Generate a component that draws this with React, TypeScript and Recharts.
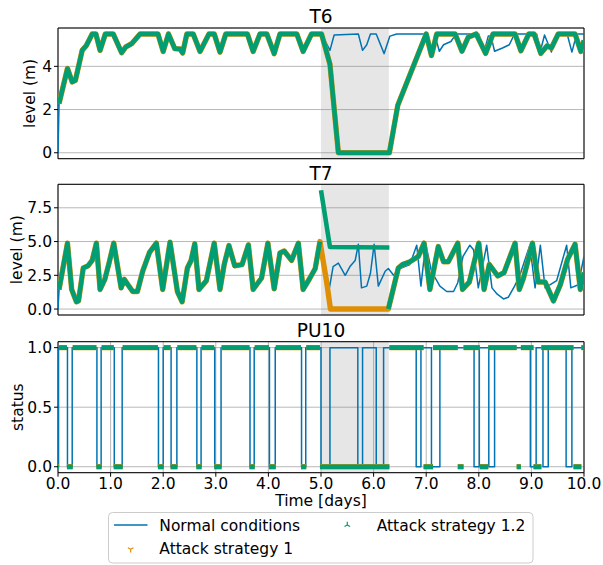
import React from 'react';
import { LineChart, Line, XAxis, YAxis, CartesianGrid, ReferenceArea } from 'recharts';

const BLUE = '#0173B2';
const ORANGE = '#DE8F05';
const GREEN = '#029E73';
const FONT = '"DejaVu Sans", sans-serif';

const xTicks = [0, 1, 2, 3, 4, 5, 6, 7, 8, 9, 10];
const attackWindow = [5.0, 6.29];

// T6 tank level [day, m]
const t6Common = [
  [0.02, 2.28], [0.18, 3.9], [0.27, 3.28], [0.33, 3.35], [0.46, 4.74], [0.54, 4.97], [0.65, 5.5],
  [0.72, 5.5], [0.8, 4.74], [0.9, 5.5], [1.05, 5.5], [1.21, 4.63], [1.29, 4.9], [1.4, 5.05],
  [1.56, 5.5], [1.9, 5.5], [2.0, 4.69], [2.1, 5.5], [2.22, 4.82], [2.32, 4.8], [2.37, 4.62],
  [2.45, 5.5], [2.57, 5.5], [2.7, 4.69], [2.87, 5.5], [2.97, 5.5], [3.08, 4.66], [3.19, 5.5],
  [3.6, 5.5], [3.71, 4.69], [3.84, 5.5], [3.97, 5.5], [4.11, 4.59], [4.22, 5.5], [4.54, 5.5],
  [4.66, 4.69], [4.82, 5.5], [5.01, 5.5],
];
const t6NormalRest = [
  [5.17, 4.74], [5.25, 5.45], [5.71, 5.5], [5.79, 4.74], [5.87, 5.0], [5.94, 5.5], [6.05, 5.5],
  [6.2, 4.59], [6.31, 5.4], [6.44, 5.5], [6.98, 5.5], [7.1, 4.66], [7.17, 5.4], [7.25, 4.7],
  [7.33, 5.0], [7.47, 5.15], [7.57, 5.5], [8.0, 5.5], [8.1, 4.66], [8.18, 5.4], [8.23, 5.4],
  [8.3, 4.7], [8.45, 4.85], [8.58, 5.0], [8.68, 5.5], [9.1, 5.5], [9.17, 4.7], [9.25, 5.45],
  [9.38, 4.66], [9.48, 5.5], [9.68, 5.5], [9.77, 4.66], [9.86, 5.5], [10, 5.5],
];
const t6AttackRest = [
  [5.17, 4.1], [5.33, 0], [6.3, 0], [6.46, 2.2], [7.0, 5.5], [7.1, 4.5], [7.2, 5.5], [7.55, 5.5],
  [7.68, 4.7], [7.8, 5.35], [7.95, 5.5], [8.13, 4.6], [8.27, 5.5], [8.69, 5.5], [8.8, 4.72],
  [8.95, 5.5], [9.05, 5.5], [9.18, 4.6], [9.3, 4.95], [9.38, 4.85], [9.51, 5.5], [9.83, 5.5],
  [9.94, 4.69], [10, 5.2],
];

// T7 tank level [day, m]
const t7Common = [
  [0.02, 1.45], [0.18, 4.88], [0.26, 1.45], [0.35, 0.54], [0.39, 0.6], [0.48, 3.04], [0.57, 3.2],
  [0.65, 3.6], [0.73, 4.88], [0.8, 1.45], [0.89, 2.2], [0.97, 3.4], [1.06, 4.88], [1.2, 1.57],
  [1.26, 2.2], [1.33, 1.8], [1.42, 1.3], [1.51, 1.3], [1.61, 2.8], [1.74, 4.2], [1.87, 4.88],
  [1.99, 1.45], [2.13, 4.95], [2.27, 1.3], [2.36, 0.54], [2.46, 3.04], [2.53, 3.6], [2.6, 4.83],
  [2.68, 1.45], [2.82, 2.1], [2.97, 4.88], [3.08, 1.45], [3.16, 3.3], [3.25, 4.7], [3.36, 3.2],
  [3.5, 3.3], [3.62, 4.75], [3.71, 1.45], [3.87, 2.3], [3.99, 4.88], [4.11, 1.5], [4.22, 4.15],
  [4.3, 4.3], [4.44, 3.6], [4.57, 4.88], [4.66, 1.45], [4.79, 2.3], [4.89, 3.0], [4.98, 5.0],
];
const t7NormalRest = [
  [5.16, 1.57], [5.23, 3.15], [5.33, 3.4], [5.46, 2.5], [5.55, 3.15], [5.65, 3.6], [5.71, 4.8],
  [5.77, 1.57], [5.87, 1.7], [5.94, 2.65], [6.01, 4.8], [6.09, 1.7], [6.22, 2.8], [6.28, 3.0],
  [6.38, 2.5], [6.5, 3.0], [6.69, 3.3], [6.82, 4.73], [6.9, 1.7], [6.99, 4.85], [7.1, 2.8],
  [7.26, 1.7], [7.39, 1.3], [7.52, 1.3], [7.6, 1.95], [7.7, 3.9], [7.83, 4.73], [7.9, 4.4],
  [7.99, 1.57], [8.15, 4.73], [8.25, 1.57], [8.35, 1.1], [8.47, 0.75], [8.56, 0.87], [8.68, 1.7],
  [8.78, 2.5], [8.97, 4.73], [9.07, 1.57], [9.17, 4.73], [9.26, 1.57], [9.48, 2.1], [9.67, 4.73],
  [9.75, 1.57], [9.89, 1.8], [10, 3.9],
];
const t7Attack1During = [[5.11, 1.94], [5.18, 0]];
const t7Attack12During = [[5.0, 8.8], [5.17, 4.6], [6.3, 4.56]];
const t7AttackAfter = [
  [6.28, 0], [6.47, 3.04], [6.55, 3.3], [6.69, 3.5], [6.85, 3.9], [6.96, 4.88], [7.07, 1.45],
  [7.23, 4.63], [7.33, 3.5], [7.42, 3.5], [7.6, 4.88], [7.69, 1.45], [7.82, 2.0], [8.0, 4.88],
  [8.1, 1.45], [8.2, 3.3], [8.36, 2.45], [8.48, 2.7], [8.69, 4.88], [8.77, 1.45], [8.85, 2.3],
  [9.02, 4.88], [9.13, 2.0], [9.26, 2.0], [9.42, 0.6], [9.55, 1.8], [9.69, 3.7], [9.83, 4.8],
  [9.93, 1.45], [10, 2.7],
];

// PU10 pump status switches [day, status]
const pu10Normal = [
  [0, 0], [0.01, 1], [0.18, 0], [0.27, 1], [0.74, 0], [0.82, 1], [1.07, 0], [1.22, 1], [1.91, 0],
  [2.0, 1], [2.15, 0], [2.26, 1], [2.64, 0], [2.72, 1], [2.98, 0], [3.1, 1], [3.65, 0], [3.73, 1],
  [4.02, 0], [4.13, 1], [4.63, 0], [4.71, 1], [5.0, 0], [5.17, 1], [5.7, 0], [5.79, 1], [6.05, 0],
  [6.19, 1], [6.81, 0], [6.9, 1], [7.1, 0], [7.26, 1], [7.91, 0], [8.01, 1], [8.19, 0], [8.3, 1],
  [8.98, 0], [9.09, 1], [9.22, 0], [9.32, 1], [9.66, 0], [9.77, 1], [10, 1],
];
const pu10Attack = [
  [0, 0], [0.02, 1], [0.17, 0], [0.28, 1], [0.73, 0], [0.83, 1], [1.06, 0], [1.23, 1], [1.9, 0],
  [2.01, 1], [2.14, 0], [2.27, 1], [2.63, 0], [2.73, 1], [2.97, 0], [3.11, 1], [3.64, 0], [3.74, 1],
  [4.01, 0], [4.14, 1], [4.62, 0], [4.72, 1], [4.98, 0], [6.3, 1], [6.95, 0], [7.13, 1], [7.6, 0],
  [7.71, 1], [8.02, 0], [8.18, 1], [8.72, 0], [8.8, 1], [9.04, 0], [9.19, 1], [9.8, 0], [9.95, 1],
  [10, 1],
];

const rows = (pairs) => pairs.map(([t, v]) => ({ t, v }));
const gap = (t) => ({ t, v: null });

// horizontal runs only (markers, no risers)
function runs(switches) {
  const out = [];
  for (let i = 0; i < switches.length - 1; i++) {
    const [t0, s] = switches[i];
    const t1 = switches[i + 1][0];
    out.push({ t: t0, v: s }, { t: t1, v: s }, gap(t1));
  }
  return out;
}

const t6Normal = rows([[0, 0], ...t6Common, ...t6NormalRest]);
const t6Attack = rows([...t6Common, ...t6AttackRest]);
const t7Normal = rows([[0, 0], ...t7Common, ...t7NormalRest]);
const t7Attack1 = rows([...t7Common, ...t7Attack1During, ...t7AttackAfter]);
const t7Attack12 = [...rows(t7Common), gap(4.99), ...rows(t7Attack12During), gap(6.295), ...rows(t7AttackAfter)];
const pu10NormalRows = rows(pu10Normal);
const pu10AttackRows = runs(pu10Attack);

const tickStyle = { fill: '#000', fontSize: 15.5, fontFamily: FONT };

function Panel({ top, height, padTop, padBottom, xHeight, yDomain, yTicks, yFmt, showX, children }) {
  return (
    <div style={{ position: 'absolute', left: 0, top, width: 603, height }}>
      <LineChart width={603} height={height} margin={{ top: padTop, right: 19, bottom: padBottom, left: 0 }}>
        <CartesianGrid stroke="#b0b0b0" strokeWidth={0.9} />
        <XAxis
          dataKey="t" type="number" domain={[0, 10]} ticks={xTicks} interval={0} allowDataOverflow
          tickFormatter={(v) => v.toFixed(1)} tick={showX ? tickStyle : false}
          tickLine={{ stroke: '#000' }} tickSize={4} tickMargin={1} axisLine={false} height={xHeight}
        />
        <YAxis
          type="number" domain={yDomain} ticks={yTicks} interval={0} allowDataOverflow
          tickFormatter={yFmt} tick={tickStyle} tickLine={{ stroke: '#000' }} tickSize={4} tickMargin={2}
          axisLine={false} width={58}
        />
        <ReferenceArea x1={attackWindow[0]} x2={attackWindow[1]} fill="#808080" fillOpacity={0.2} stroke="none" />
        {children}
        <ReferenceArea x1={0} x2={10} y1={yDomain[0]} y2={yDomain[1]} fill="none" stroke="#000" strokeWidth={1} ifOverflow="visible" />
      </LineChart>
    </div>
  );
}

const band = (data, color, w, type = 'linear') => (
  <Line data={data} dataKey="v" type={type} stroke={color} strokeWidth={w} dot={false}
    strokeLinejoin="round" isAnimationActive={false} />
);

function Tri({ x, y, up, color }) {
  const r = 3.2;
  const d = up
    ? `M${x},${y} L${x},${y - r} M${x},${y} L${x - r * 0.87},${y + r / 2} M${x},${y} L${x + r * 0.87},${y + r / 2}`
    : `M${x},${y} L${x},${y + r} M${x},${y} L${x - r * 0.87},${y - r / 2} M${x},${y} L${x + r * 0.87},${y - r / 2}`;
  return <path d={d} stroke={color} strokeWidth={1.2} fill="none" />;
}

export default function App() {
  const f0 = (v) => String(v);
  const f1 = (v) => v.toFixed(1);
  return (
    <div style={{ position: 'absolute', left: 0, top: 0, width: 603, height: 565, background: '#fff' }}>
      <Panel top={0} height={170} padTop={28} padBottom={5.3} xHeight={6}
        yDomain={[-0.275, 5.775]} yTicks={[0, 2, 4]} yFmt={f0}>
        {band(t6Normal, BLUE, 1.5)}
        {band(t6Attack, ORANGE, 5.4)}
        {band(t6Attack, GREEN, 4.6)}
      </Panel>
      <Panel top={170} height={160} padTop={14.3} padBottom={9} xHeight={6}
        yDomain={[-0.44, 9.24]} yTicks={[0, 2.5, 5, 7.5]} yFmt={f1}>
        {band(t7Normal, BLUE, 1.5)}
        {band(t7Attack1, ORANGE, 5.4)}
        {band(t7Attack12, GREEN, 4.6)}
      </Panel>
      <Panel top={330} height={180} padTop={11.7} padBottom={7.3} xHeight={30} showX
        yDomain={[-0.05, 1.05]} yTicks={[0, 0.5, 1]} yFmt={f1}>
        {band(pu10NormalRows, BLUE, 1.5, 'stepAfter')}
        {band(pu10AttackRows, ORANGE, 5.4)}
        {band(pu10AttackRows, GREEN, 4.6)}
      </Panel>
      <svg width={603} height={565} style={{ position: 'absolute', left: 0, top: 0, pointerEvents: 'none' }}
        fontFamily={FONT}>
        <text x={321} y={22.7} textAnchor="middle" fontSize={18.6}>T6</text>
        <text x={321} y={180} textAnchor="middle" fontSize={18.6}>T7</text>
        <text x={321} y={336.7} textAnchor="middle" fontSize={18.6}>PU10</text>
        <text transform="translate(35,93.4) rotate(-90)" textAnchor="middle" fontSize={15.5}>level (m)</text>
        <text transform="translate(21.5,249.7) rotate(-90)" textAnchor="middle" fontSize={15.5}>level (m)</text>
        <text transform="translate(22.5,407.2) rotate(-90)" textAnchor="middle" fontSize={15.5}>status</text>
        <text x={321} y={506} textAnchor="middle" fontSize={15.5}>Time [days]</text>
        <rect x={108.5} y={512.5} width={424.5} height={50.5} rx={4} fill="#fff" fillOpacity={0.8} stroke="#cccccc" />
        <line x1={114} x2={147.5} y1={525} y2={525} stroke={BLUE} strokeWidth={1.5} />
        <text x={159.3} y={530.7} fontSize={15.5}>Normal conditions</text>
        <Tri x={130.7} y={549.3} up={false} color={ORANGE} />
        <text x={159.3} y={554} fontSize={15.5}>Attack strategy 1</text>
        <Tri x={347.3} y={525} up color={GREEN} />
        <text x={376.7} y={530.7} fontSize={15.5}>Attack strategy 1.2</text>
      </svg>
    </div>
  );
}
